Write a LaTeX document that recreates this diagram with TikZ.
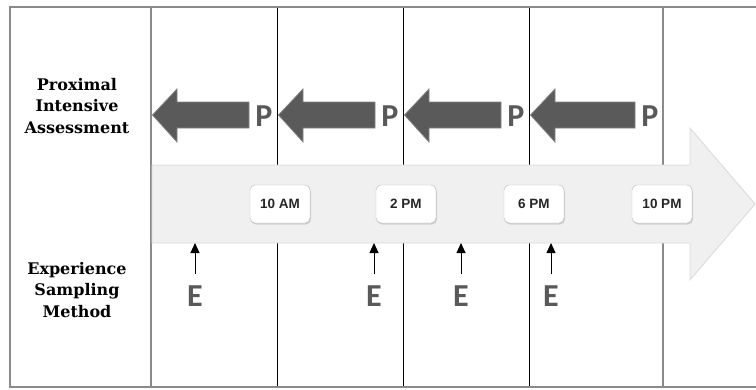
\documentclass[tikz,border=0pt]{standalone}
\usepackage{fontspec}
\setmainfont{DejaVu Serif}
\newfontfamily\letterfont{Carlito}
\newfontfamily\timefont{Liberation Sans}
\usepackage{tikz}
\usetikzlibrary{arrows.meta, shadows}
\usetikzlibrary{positioning}
\definecolor{framegray}{HTML}{8A8A8A}
\definecolor{arrowdark}{HTML}{5A5A5A}
\definecolor{arrowlight}{HTML}{F0F0F0}
\definecolor{lettergray}{HTML}{595959}
\tikzset{
  rowlabel/.style={
    font=\bfseries\fontsize{16}{21.5}\selectfont,
    align=center
  },
  timebox/.style={
    draw=gray!55, fill=white,
    rounded corners=5pt,
    minimum width=60pt,
    minimum height=38pt,
    font=\timefont\bfseries\fontsize{13.5}{13.5}\selectfont,
    text=black!85,
    drop shadow={shadow xshift=1pt, shadow yshift=-1.5pt, opacity=0.3}
  },
  letter/.style={
    text=lettergray,
    inner sep=0pt,
    font=\letterfont\bfseries\fontsize{32}{32}\selectfont
  },
  backarrow/.style={
    fill=arrowdark, draw=arrowdark!75, line width=0.8pt
  },
  samplearrow/.style={
    line width=0.9pt,
    -{Triangle[length=10pt,width=9pt]}
  }
}

\begin{document}
\begin{tikzpicture}[x=1pt, y=-1pt]
\useasboundingbox (0,0) rectangle (756,389);

% Columns
\foreach \x in {277, 403, 529}
  \draw[line width=0.8pt] (\x,7) -- (\x,387);
\draw[framegray, line width=1.8pt] (151,7) -- (151,387);
\draw[framegray, line width=1.8pt] (663,7) -- (663,387);
\draw[framegray, line width=2pt] (10,7) rectangle (780,387);

% Timeline
\draw[fill=arrowlight, draw=gray!30, line width=0.8pt]
  (152,165) -- (690,165) -- (690,128) -- (755,204)
  -- (690,280) -- (690,243) -- (152,243) -- cycle;

% Row labels
\node[rowlabel] (pia) at (77,106) {Proximal\\Intensive\\Assessment};
\node[rowlabel] (esm) at (77,290) {Experience\\Sampling\\Method};

% Proximal assessments
\foreach \l/\r in {151/277, 277/403, 403/529, 529/663} {
  \draw[backarrow] (\l+1.5,115) -- (\l+26,89) -- (\l+26,102)
    -- (\r-28,102) -- (\r-28,128) -- (\l+26,128) -- (\l+26,142) -- cycle;
  \node[letter] (p\r) at (\r-13,116) {P};
}

% Times of day
\node[timebox] (t10am) at (280,204) {10 AM};
\node[timebox] (t2pm) at (406,204) {2 PM};
\node[timebox] (t6pm) at (534,204) {6 PM};
\node[timebox] (t10pm) at (662,204) {10 PM};

% Experience samples
\foreach \x [count=\i] in {195, 374, 461, 551} {
  \node[letter] (e\i) at (\x,296) {E};
  \coordinate (s\i) at (\x,243);
  \draw[samplearrow] ([yshift=11pt]e\i.north) -- (s\i);
}

\end{tikzpicture}
\end{document}
